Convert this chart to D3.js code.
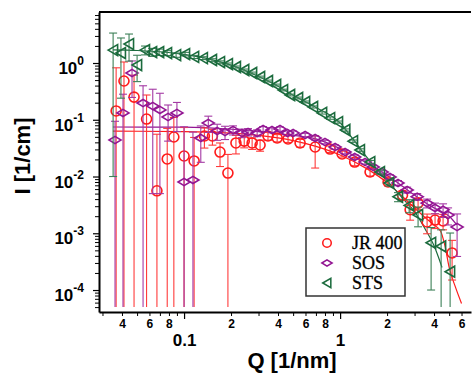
<!DOCTYPE html>
<html>
<head>
<meta charset="utf-8">
<script src="https://cdn.jsdelivr.net/npm/d3@7"></script>
<style>
  body { margin: 0; background: #fff; }
  svg { display: block; }
</style>
</head>
<body>
<svg id="chart"></svg>
<script>
// JR 400 data: Q [1/nm], I [1/cm], error
const jrQ = [0.0367, 0.0412, 0.0478, 0.0575, 0.067, 0.078, 0.086, 0.100, 0.116, 0.135, 0.152, 0.170,
  0.191, 0.215, 0.243, 0.273, 0.307, 0.345, 0.395, 0.464, 0.554, 0.692, 0.863, 1.03, 1.24, 1.556,
  2.03, 2.51, 2.81, 3.16, 3.61, 4.06, 4.57, 5.22];
const jrI = [0.143, 0.482, 0.251, 0.103, 0.0056, 0.0204, 0.0497, 0.023, 0.0188, 0.0517, 0.0517, 0.027,
  0.0115, 0.039, 0.042, 0.039, 0.0359, 0.0517, 0.0478, 0.0458, 0.039, 0.0331, 0.0305, 0.025, 0.018, 0.012,
  0.0080, 0.0047, 0.0026, 0.0034, 0.00158, 0.00171, 0.00165, 0.00045];
const jrErr = [0.68, 0.56, 0.36, 0.17, 0.05, 0.05, 0.06, 0.05, 0.03, 0.02, 0.016, 0.012,
  0.013, 0.014, 0.010, 0.009, 0.008, 0.008, 0.007, 0.006, 0.006, 0.019, 0.004, 0.003, 0.0025, 0.0018,
  0.0012, 0.0009, 0.0009, 0.0008, 0.0006, 0.0005, 0.0005, 0.0003];

// SOS data
const sosQ = [0.0361, 0.0406, 0.0464, 0.0546, 0.063, 0.070, 0.079, 0.090, 0.100, 0.114, 0.128, 0.143,
  0.163, 0.183, 0.206, 0.235, 0.257, 0.294, 0.321, 0.366, 0.412, 0.46, 0.50, 0.597, 0.692, 0.80, 0.929,
  1.076, 1.24, 1.446, 1.63, 1.86, 2.09, 2.35, 2.69, 3.12, 3.61, 4.06, 4.57, 4.92, 5.62];
const sosI = [0.044, 0.132, 0.667, 0.197, 0.175, 0.149, 0.112, 0.132, 0.0080, 0.0087, 0.0478, 0.0877,
  0.0634, 0.0608, 0.066, 0.0584, 0.0608, 0.0584, 0.0687, 0.066, 0.0687, 0.0584, 0.0584, 0.0538, 0.0478,
  0.0406, 0.0331, 0.027, 0.0221, 0.018, 0.0147, 0.012, 0.0098, 0.0077, 0.0058, 0.0044, 0.0034, 0.0028,
  0.0026, 0.0021, 0.00129];
const sosErr = [0.05, 0.15, 0.42, 0.2, 0.17, 0.144, 0.07, 0.07, 0.067, 0.052, 0.03, 0.028,
  0.02, 0.016, 0.012, 0.01, 0.009, 0.008, 0.007, 0.006, 0.006, 0.005, 0.005, 0.004, 0.004, 0.003, 0.003,
  0.002, 0.002, 0.0015, 0.0012, 0.001, 0.0009, 0.0008, 0.0007, 0.0006, 0.0006, 0.0006, 0.0007, 0.0007, 0.0009];

// STS data
const stsQ = [0.0351, 0.0394, 0.0444, 0.050, 0.0562, 0.0624, 0.0692, 0.0778, 0.0889, 0.1015, 0.116,
  0.132, 0.151, 0.170, 0.191, 0.215, 0.243, 0.273, 0.307, 0.345, 0.389, 0.431, 0.478, 0.538, 0.597,
  0.671, 0.767, 0.863, 0.970, 1.08, 1.21, 1.34, 1.56, 1.80, 2.06, 2.35, 2.77, 3.16, 3.83, 4.44, 5.07];
const stsI = [1.69, 1.50, 2.16, 0.92, 1.69, 1.56, 1.56, 1.50, 1.38, 1.44, 1.28,
  1.22, 1.13, 1.04, 0.96, 0.85, 0.753, 0.667, 0.567, 0.482, 0.41, 0.334, 0.273, 0.242, 0.206,
  0.168, 0.132, 0.107, 0.091, 0.066, 0.042, 0.0293, 0.018, 0.012, 0.0077, 0.0044, 0.0031, 0.0021,
  0.00068, 0.00059, 0.00021];
const stsErr = [1.68, 1.26, 1.08, 0.45, 0.3, 0.25, 0.2, 0.15, 0.12, 0.1, 0.08,
  0.07, 0.06, 0.05, 0.04, 0.035, 0.03, 0.025, 0.02, 0.018, 0.015, 0.012, 0.01, 0.009, 0.008,
  0.007, 0.006, 0.005, 0.004, 0.003, 0.002, 0.0015, 0.0012, 0.001, 0.0009, 0.0008, 0.0008, 0.0008,
  0.00058, 0.00056, 0.0008];

// Model fits
const jrFitQ = [0.035, 0.1, 0.2, 0.3, 0.5, 0.7, 1.0, 1.5, 2.0, 2.5, 3.0, 3.5, 4.0, 4.4, 4.7, 5.0, 5.5, 6.0];
const jrFitI = [0.063, 0.062, 0.058, 0.053, 0.043, 0.034, 0.024, 0.0135, 0.0078, 0.0045, 0.0028, 0.0019,
  0.0014, 0.0011, 0.0006, 0.00025, 0.00011, 0.000058];
const sosFitQ = [0.035, 0.1, 0.2, 0.3, 0.5, 0.7, 1.0, 1.5, 2.0, 2.5, 3.0, 3.5, 4.0, 4.5, 5.0, 5.6];
const sosFitI = [0.0745, 0.074, 0.068, 0.062, 0.053, 0.046, 0.031, 0.017, 0.0105, 0.0068, 0.0047, 0.0035,
  0.0028, 0.0024, 0.002, 0.0014];
const stsFitQ = [0.035, 0.05, 0.1, 0.15, 0.2, 0.3, 0.4, 0.5, 0.7, 1.0, 1.2, 1.5, 2.0, 2.5, 3.0, 3.5, 4.0, 4.5];
const stsFitI = [1.7, 1.66, 1.42, 1.15, 0.92, 0.58, 0.39, 0.27, 0.165, 0.088, 0.047, 0.021, 0.0085, 0.0042,
  0.0024, 0.0012, 0.0006, 0.00025];

// Axis ticks
const yMajor = [1e-4, 1e-3, 1e-2, 1e-1, 1];
const yExponents = ['-4', '-3', '-2', '-1', '0'];
const xMajor = [0.1, 1];
const xMajorLabels = ['0.1', '1'];
const xLabelledMantissas = [2, 4, 6, 8];

const width = 472;
const height = 374;
const plotLeft = 99, plotRight = 471, plotTop = 12, plotBottom = 312;
const floorI = 5e-5; // lower end of drawn error bars

const svg = d3.select('#chart')
  .attr('width', width)
  .attr('height', height)
  .attr('viewBox', `0 0 ${width} ${height}`);

const x = d3.scaleLog().domain([0.0285, 6.9]).range([plotLeft, plotRight]);
const y = d3.scaleLog().domain([4.1e-5, 7.92]).range([plotBottom, plotTop]);

svg.append('defs').append('clipPath').attr('id', 'plot')
  .append('rect')
  .attr('x', plotLeft).attr('y', plotTop)
  .attr('width', plotRight - plotLeft).attr('height', y(floorI) - plotTop);

// minor tick values for the log axes
const minorTicks = (lo, hi) => {
  const out = [];
  for (let k = -6; k <= 1; k++) {
    for (let m = 1; m <= 9; m++) {
      const v = m * Math.pow(10, k);
      if (v >= lo && v <= hi) out.push(v);
    }
  }
  return out;
};
const mantissa = (v) => Math.round(v / Math.pow(10, Math.floor(Math.log10(v) + 1e-9)));

const tickFont = '"Liberation Sans", Arial, sans-serif';

/**
 * Y axis.
 */
const yAxis = svg.append('g')
  .attr('transform', `translate(${plotLeft},0)`)
  .call(d3.axisLeft(y)
    .tickValues(minorTicks(4.1e-5, 7.92).filter((v) => mantissa(v) !== 1))
    .tickSize(4)
    .tickSizeOuter(0)
    .tickFormat(''));
yAxis.select('.domain').attr('stroke', '#000').attr('stroke-width', 2);
yAxis.selectAll('.tick line').attr('stroke', '#000').attr('stroke-width', 1);

svg.append('g')
  .attr('transform', `translate(${plotLeft},0)`)
  .call(d3.axisLeft(y).tickValues(yMajor).tickSize(6).tickSizeOuter(0).tickFormat(''))
  .call((g) => g.select('.domain').remove())
  .selectAll('.tick line').attr('stroke', '#000').attr('stroke-width', 1.2);

// Y tick labels as 10^n
const yLabels = svg.append('g')
  .attr('font-family', tickFont)
  .attr('font-weight', 'bold')
  .attr('fill', '#000');
yMajor.forEach((v, i) => {
  const t = yLabels.append('text')
    .attr('x', 84)
    .attr('y', y(v) + 11)
    .attr('text-anchor', 'end');
  t.append('tspan').attr('font-size', 17).text('10');
  t.append('tspan').attr('font-size', 12).attr('dy', -9).text(yExponents[i]);
});

/**
 * X axis.
 */
const xAxis = svg.append('g')
  .attr('transform', `translate(0,${plotBottom})`)
  .call(d3.axisBottom(x)
    .tickValues(minorTicks(0.0285, 6.9).filter((v) => mantissa(v) !== 1))
    .tickSize(4)
    .tickSizeOuter(0)
    .tickPadding(3)
    .tickFormat((v) => (xLabelledMantissas.includes(mantissa(v)) ? String(mantissa(v)) : '')));
xAxis.select('.domain').attr('stroke', '#000').attr('stroke-width', 2);
xAxis.selectAll('.tick line').attr('stroke', '#000').attr('stroke-width', 1);
xAxis.selectAll('.tick text')
  .attr('font-family', tickFont)
  .attr('font-weight', 'bold')
  .attr('font-size', 12)
  .attr('fill', '#000');

svg.append('g')
  .attr('transform', `translate(0,${plotBottom})`)
  .call(d3.axisBottom(x)
    .tickValues(xMajor)
    .tickSize(7)
    .tickSizeOuter(0)
    .tickPadding(15)
    .tickFormat((v, i) => xMajorLabels[i]))
  .call((g) => g.select('.domain').remove())
  .call((g) => g.selectAll('.tick line').attr('stroke', '#000').attr('stroke-width', 1.2))
  .selectAll('.tick text')
  .attr('font-family', tickFont)
  .attr('font-weight', 'bold')
  .attr('font-size', 17)
  .attr('fill', '#000');

// top frame line
svg.append('line')
  .attr('x1', plotLeft).attr('x2', plotRight)
  .attr('y1', plotTop).attr('y2', plotTop)
  .attr('stroke', '#000').attr('stroke-width', 2);

// Axis titles
svg.append('text')
  .attr('transform', 'translate(30,156) rotate(-90)')
  .attr('text-anchor', 'middle')
  .attr('font-family', tickFont)
  .attr('font-weight', 'bold')
  .attr('font-size', 22)
  .text('I [1/cm]');

svg.append('text')
  .attr('x', 292)
  .attr('y', 368)
  .attr('text-anchor', 'middle')
  .attr('font-family', tickFont)
  .attr('font-weight', 'bold')
  .attr('font-size', 22)
  .text('Q [1/nm]');

/**
 * Series.
 */
const series = [
  { name: 'JR 400', q: jrQ, i: jrI, e: jrErr, fq: jrFitQ, fi: jrFitI,
    color: '#ff1a1a', errColor: '#ff3b3b', shape: 'circle' },
  { name: 'SOS', q: sosQ, i: sosI, e: sosErr, fq: sosFitQ, fi: sosFitI,
    color: '#931593', errColor: '#a43aa4', shape: 'diamond' },
  { name: 'STS', q: stsQ, i: stsI, e: stsErr, fq: stsFitQ, fi: stsFitI,
    color: '#1b6b3d', errColor: '#3d8058', shape: 'triangle' },
];

const markerPath = {
  circle: d3.symbol().type(d3.symbolCircle).size(Math.PI * 25)(),
  diamond: 'M-6,0L0,-3.6L6,0L0,3.6Z',
  triangle: 'M-5,0L4.5,-5.5L4.5,5.5Z',
};

const plot = svg.append('g').attr('clip-path', 'url(#plot)');

const lineGenerator = d3.line()
  .x((d) => x(d[0]))
  .y((d) => y(d[1]))
  .curve(d3.curveMonotoneX);

series.forEach((s) => {
  plot.append('path')
    .datum(s.fq.map((q, k) => [q, s.fi[k]]))
    .attr('d', lineGenerator)
    .attr('fill', 'none')
    .attr('stroke', s.color)
    .attr('stroke-width', 1.2);
});

const cap = 4;
series.forEach((s) => {
  const pts = s.q.map((q, k) => ({ q, i: s.i[k], e: s.e[k] }));
  const g = plot.append('g');
  const bars = g.selectAll('g.err').data(pts).join('g').attr('class', 'err')
    .attr('stroke', s.errColor)
    .attr('stroke-width', 1.1);
  bars.append('line')
    .attr('x1', (d) => x(d.q)).attr('x2', (d) => x(d.q))
    .attr('y1', (d) => y(d.i + d.e))
    .attr('y2', (d) => y(Math.max(d.i - d.e, floorI)));
  bars.append('line')
    .attr('x1', (d) => x(d.q) - cap).attr('x2', (d) => x(d.q) + cap)
    .attr('y1', (d) => y(d.i + d.e)).attr('y2', (d) => y(d.i + d.e));
  bars.filter((d) => d.i - d.e > floorI).append('line')
    .attr('x1', (d) => x(d.q) - cap).attr('x2', (d) => x(d.q) + cap)
    .attr('y1', (d) => y(d.i - d.e)).attr('y2', (d) => y(d.i - d.e));

  g.selectAll('path.mk').data(pts).join('path').attr('class', 'mk')
    .attr('d', markerPath[s.shape])
    .attr('transform', (d) => `translate(${x(d.q)},${y(d.i)})`)
    .attr('fill', 'none')
    .attr('stroke', s.color)
    .attr('stroke-width', 1.6);
});

/**
 * Legend.
 */
const legend = svg.append('g').attr('transform', 'translate(306,228)');
legend.append('rect')
  .attr('width', 99).attr('height', 68)
  .attr('fill', '#fff')
  .attr('stroke', '#333')
  .attr('stroke-width', 1.5);
series.forEach((s, k) => {
  legend.append('path')
    .attr('d', markerPath[s.shape])
    .attr('transform', `translate(21,${15 + k * 20}) scale(0.85)`)
    .attr('fill', 'none')
    .attr('stroke', s.color)
    .attr('stroke-width', 1.8);
  legend.append('text')
    .attr('x', 46)
    .attr('y', 21 + k * 20)
    .attr('font-family', '"Liberation Serif", "Times New Roman", serif')
    .attr('font-size', 18)
    .attr('fill', '#000')
    .attr('stroke', '#000')
    .attr('stroke-width', 0.3)
    .text(s.name);
});
</script>
</body>
</html>
